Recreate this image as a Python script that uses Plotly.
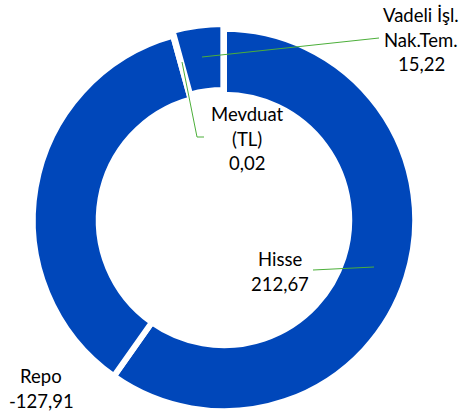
import plotly.graph_objects as go

categories = ["Hisse", "Repo", "Mevduat (TL)", "Vadeli İşl. Nak.Tem."]
values = [212.67, -127.91, 0.02, 15.22]
label_lines = [["Hisse"], ["Repo"], ["Mevduat", "(TL)"], ["Vadeli İşl.", "Nak.Tem."]]

BLUE = "#0047BA"
GREEN = "#4CAF3A"
FONT = "Lato"
W, H = 460, 416

def fmt(v):
    return f"{v:.2f}".replace(".", ",")

fig = go.Figure(go.Pie(
    labels=categories,
    values=[abs(v) for v in values],
    hole=0.655,
    sort=False,
    direction="clockwise",
    rotation=0,
    textinfo="none",
    hoverinfo="label+value",
    marker=dict(colors=[BLUE] * len(values), line=dict(color="white", width=6)),
    pull=[0, 0, 0, 0.025],
    domain=dict(x=[0.0609, 0.913], y=[0.0, 0.9423]),
    showlegend=False,
))

# label anchor positions in pixels (center x, first line y), layout only
label_pos = {
    "Hisse": (280, 259),
    "Repo": (41, 376),
    "Mevduat (TL)": (247, 114),
    "Vadeli İşl. Nak.Tem.": (421, 15),
}
LINE_H = 24.5
annotations = []
for cat, v, lines in zip(categories, values, label_lines):
    x0, y0 = label_pos[cat]
    for i, t in enumerate(lines + [fmt(v)]):
        annotations.append(dict(
            x=x0 / W, y=1 - (y0 + i * LINE_H) / H, xref="paper", yref="paper",
            text=t, showarrow=False, xanchor="center", yanchor="middle",
            font=dict(family=FONT, size=18.5, color="#000000"),
        ))

def px(x, y):
    return x / W, 1 - y / H

shapes = []
leaders = [
    [(202, 57), (379, 38)],
    [(182, 62), (197, 137), (204, 137)],
    [(313, 270), (374, 267)],
]
for pts in leaders:
    path = "M " + " L ".join(f"{px(x, y)[0]},{px(x, y)[1]}" for x, y in pts)
    shapes.append(dict(type="path", path=path, xref="paper", yref="paper",
                       line=dict(color=GREEN, width=1)))

fig.update_layout(
    width=W, height=H,
    margin=dict(l=0, r=0, t=0, b=0),
    paper_bgcolor="white", plot_bgcolor="white",
    annotations=annotations,
    shapes=shapes,
)
fig.write_html(
    "out.html",
    config={"displayModeBar": False},
    post_script="document.body.style.margin='0';document.body.style.overflow='hidden';",
)
